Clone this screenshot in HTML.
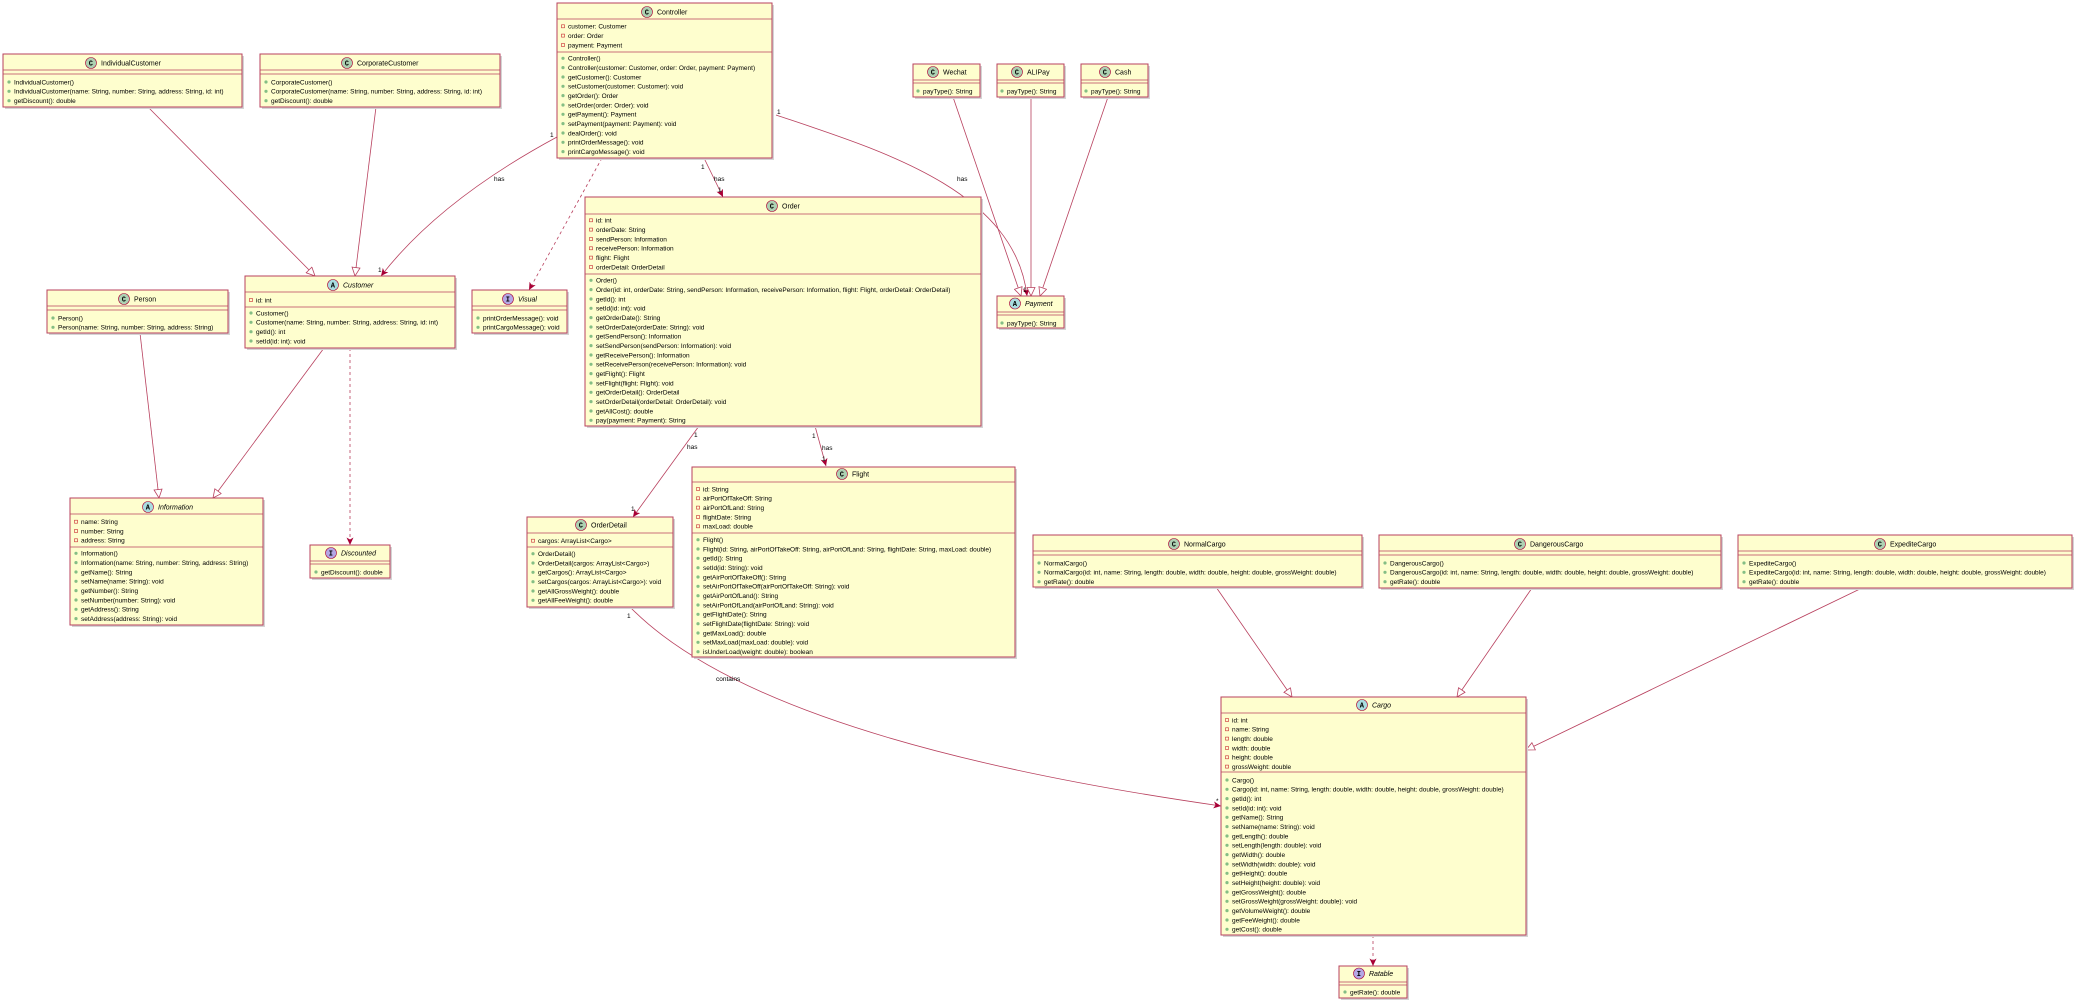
<!DOCTYPE html>
<html><head><meta charset="utf-8"><style>
html,body{margin:0;padding:0;background:#fff;}
svg{display:block;}
text{font-family:"Liberation Sans",Arial,sans-serif;font-size:6.5px;fill:#000;}
.n{font-size:7px;}
.i{font-style:italic;}
.lb{font-size:6.5px;}
.bx{fill:#FEFECE;stroke:#B8405E;stroke-width:1;}
.sh{fill:#d4d4d4;}
.ln{stroke:#B8405E;stroke-width:0.8;}
.e{fill:none;stroke:#B8405E;stroke-width:0.8;}
.d{fill:none;stroke:#B8405E;stroke-width:0.8;stroke-dasharray:3,3;}
.m{fill:#84BE84;}
.a{fill:none;stroke:#C82930;stroke-width:0.6;}
.ic{stroke:#A80036;stroke-width:0.6;}
.il{font-size:7px;font-weight:bold;font-family:"Liberation Mono",monospace;}
</style></head><body>
<svg width="2076" height="1005" viewBox="0 0 2076 1005" xmlns="http://www.w3.org/2000/svg">
<defs>
<marker id="tri" markerUnits="userSpaceOnUse" markerWidth="10" markerHeight="9" refX="9" refY="4.5" orient="auto"><path d="M0.5,0.5 L9,4.5 L0.5,8.5 Z" fill="#fff" stroke="#B8405E" stroke-width="0.8"/></marker>
<marker id="arr" markerUnits="userSpaceOnUse" markerWidth="8" markerHeight="7" refX="7.5" refY="3.5" orient="auto"><path d="M0,0 L7.5,3.5 L0,7 L2,3.5 Z" fill="#A80036"/></marker>
</defs>

<!-- connectors -->
<line x1="148" y1="107" x2="315" y2="276" class="ln" marker-end="url(#tri)"/>
<line x1="376" y1="107" x2="355" y2="276" class="ln" marker-end="url(#tri)"/>
<path d="M557,137 Q440,200 381,276" class="e" marker-end="url(#arr)"/>
<text x="550" y="137" class="lb">1</text><text x="494" y="181" class="lb">has</text><text x="378" y="272" class="lb">1</text>
<path d="M602,158 L529,290" class="d" marker-end="url(#arr)"/>
<line x1="704" y1="158" x2="723" y2="197" class="ln" marker-end="url(#arr)"/>
<text x="701" y="169" class="lb">1</text><text x="714" y="181" class="lb">has</text><text x="718" y="192" class="lb">1</text>
<path d="M776,115 C880,150 1015,190 1027,296" class="e" marker-end="url(#arr)"/>
<text x="777" y="114" class="lb">1</text><text x="957" y="181" class="lb">has</text><text x="1023" y="292" class="lb">1</text>
<line x1="953" y1="97" x2="1021" y2="296" class="ln" marker-end="url(#tri)"/>
<line x1="1031" y1="97" x2="1031" y2="296" class="ln" marker-end="url(#tri)"/>
<line x1="1108" y1="97" x2="1040" y2="296" class="ln" marker-end="url(#tri)"/>
<line x1="140" y1="333" x2="159" y2="498" class="ln" marker-end="url(#tri)"/>
<line x1="324" y1="348" x2="213" y2="498" class="ln" marker-end="url(#tri)"/>
<path d="M350,348 L350,545" class="d" marker-end="url(#arr)"/>
<line x1="699" y1="426" x2="633" y2="517" class="ln" marker-end="url(#arr)"/>
<text x="694" y="437" class="lb">1</text><text x="687" y="449" class="lb">has</text><text x="631" y="511" class="lb">1</text>
<line x1="815" y1="426" x2="826" y2="466" class="ln" marker-end="url(#arr)"/>
<text x="812" y="438" class="lb">1</text><text x="822" y="450" class="lb">has</text><text x="822" y="461" class="lb">1</text>
<path d="M630,607 Q760,740 1221,806" class="e" marker-end="url(#arr)"/>
<text x="627" y="618" class="lb">1</text><text x="716" y="681" class="lb">contains</text><text x="1216" y="803" class="lb">*</text>
<line x1="1216" y1="587" x2="1292" y2="697" class="ln" marker-end="url(#tri)"/>
<line x1="1532" y1="588" x2="1457" y2="697" class="ln" marker-end="url(#tri)"/>
<line x1="1862" y1="588" x2="1526" y2="750" class="ln" marker-end="url(#tri)"/>
<path d="M1373,935 L1373,966" class="d" marker-end="url(#arr)"/>

<!-- IndividualCustomer -->
<rect x="5" y="56" width="239" height="53" class="sh"/>
<rect x="3" y="54" width="239" height="53" class="bx"/>
<line x1="3" y1="70" x2="242" y2="70" class="ln"/><line x1="3" y1="74" x2="242" y2="74" class="ln"/>
<circle cx="91" cy="63" r="5.5" fill="#ADD1B2" class="ic"/><text x="88.8" y="65.5" class="il">C</text>
<text x="101" y="65.5" class="n">IndividualCustomer</text>
<circle cx="9" cy="82" r="1.6" class="m"/><text x="14" y="84.3">IndividualCustomer()</text>
<circle cx="9" cy="91.3" r="1.6" class="m"/><text x="14" y="93.6">IndividualCustomer(name: String, number: String, address: String, id: int)</text>
<circle cx="9" cy="100.7" r="1.6" class="m"/><text x="14" y="103">getDiscount(): double</text>

<!-- CorporateCustomer -->
<rect x="262" y="56" width="240" height="53" class="sh"/>
<rect x="260" y="54" width="240" height="53" class="bx"/>
<line x1="260" y1="70" x2="500" y2="70" class="ln"/><line x1="260" y1="74" x2="500" y2="74" class="ln"/>
<circle cx="347" cy="63" r="5.5" fill="#ADD1B2" class="ic"/><text x="344.8" y="65.5" class="il">C</text>
<text x="357" y="65.5" class="n">CorporateCustomer</text>
<circle cx="266" cy="82" r="1.6" class="m"/><text x="271" y="84.3">CorporateCustomer()</text>
<circle cx="266" cy="91.3" r="1.6" class="m"/><text x="271" y="93.6">CorporateCustomer(name: String, number: String, address: String, id: int)</text>
<circle cx="266" cy="100.7" r="1.6" class="m"/><text x="271" y="103">getDiscount(): double</text>

<!-- Controller -->
<rect x="559" y="5" width="215" height="155" class="sh"/>
<rect x="557" y="3" width="215" height="155" class="bx"/>
<line x1="557" y1="19" x2="772" y2="19" class="ln"/><line x1="557" y1="52" x2="772" y2="52" class="ln"/>
<circle cx="647" cy="12" r="5.5" fill="#ADD1B2" class="ic"/><text x="644.8" y="14.5" class="il">C</text>
<text x="657" y="14.5" class="n">Controller</text>
<rect x="561.5" y="24.8" width="3" height="3" class="a"/><text x="568" y="28.6">customer: Customer</text>
<rect x="561.5" y="34.1" width="3" height="3" class="a"/><text x="568" y="37.9">order: Order</text>
<rect x="561.5" y="43.5" width="3" height="3" class="a"/><text x="568" y="47.3">payment: Payment</text>
<circle cx="563" cy="58.3" r="1.6" class="m"/><text x="568" y="60.6">Controller()</text>
<circle cx="563" cy="67.6" r="1.6" class="m"/><text x="568" y="69.9">Controller(customer: Customer, order: Order, payment: Payment)</text>
<circle cx="563" cy="77" r="1.6" class="m"/><text x="568" y="79.3">getCustomer(): Customer</text>
<circle cx="563" cy="86.3" r="1.6" class="m"/><text x="568" y="88.6">setCustomer(customer: Customer): void</text>
<circle cx="563" cy="95.6" r="1.6" class="m"/><text x="568" y="97.9">getOrder(): Order</text>
<circle cx="563" cy="105" r="1.6" class="m"/><text x="568" y="107.3">setOrder(order: Order): void</text>
<circle cx="563" cy="114.3" r="1.6" class="m"/><text x="568" y="116.6">getPayment(): Payment</text>
<circle cx="563" cy="123.6" r="1.6" class="m"/><text x="568" y="125.9">setPayment(payment: Payment): void</text>
<circle cx="563" cy="133" r="1.6" class="m"/><text x="568" y="135.3">dealOrder(): void</text>
<circle cx="563" cy="142.3" r="1.6" class="m"/><text x="568" y="144.6">printOrderMessage(): void</text>
<circle cx="563" cy="151.6" r="1.6" class="m"/><text x="568" y="153.9">printCargoMessage(): void</text>

<!-- Wechat / ALIPay / Cash -->
<rect x="915" y="66" width="67" height="33" class="sh"/>
<rect x="913" y="64" width="67" height="33" class="bx"/>
<line x1="913" y1="80" x2="980" y2="80" class="ln"/><line x1="913" y1="83" x2="980" y2="83" class="ln"/>
<circle cx="933" cy="72" r="5.5" fill="#ADD1B2" class="ic"/><text x="930.8" y="74.5" class="il">C</text>
<text x="943" y="74.5" class="n">Wechat</text>
<circle cx="918" cy="91" r="1.6" class="m"/><text x="923" y="93.3">payType(): String</text>

<rect x="999" y="66" width="67" height="33" class="sh"/>
<rect x="997" y="64" width="67" height="33" class="bx"/>
<line x1="997" y1="80" x2="1064" y2="80" class="ln"/><line x1="997" y1="83" x2="1064" y2="83" class="ln"/>
<circle cx="1017" cy="72" r="5.5" fill="#ADD1B2" class="ic"/><text x="1014.8" y="74.5" class="il">C</text>
<text x="1027" y="74.5" class="n">ALIPay</text>
<circle cx="1002" cy="91" r="1.6" class="m"/><text x="1007" y="93.3">payType(): String</text>

<rect x="1083" y="66" width="67" height="33" class="sh"/>
<rect x="1081" y="64" width="67" height="33" class="bx"/>
<line x1="1081" y1="80" x2="1148" y2="80" class="ln"/><line x1="1081" y1="83" x2="1148" y2="83" class="ln"/>
<circle cx="1105" cy="72" r="5.5" fill="#ADD1B2" class="ic"/><text x="1102.8" y="74.5" class="il">C</text>
<text x="1115" y="74.5" class="n">Cash</text>
<circle cx="1086" cy="91" r="1.6" class="m"/><text x="1091" y="93.3">payType(): String</text>

<!-- Payment -->
<rect x="999" y="298" width="67" height="32" class="sh"/>
<rect x="997" y="296" width="67" height="32" class="bx"/>
<line x1="997" y1="312" x2="1064" y2="312" class="ln"/><line x1="997" y1="315" x2="1064" y2="315" class="ln"/>
<circle cx="1015" cy="303.5" r="5.5" fill="#A9DCDF" class="ic"/><text x="1012.8" y="306" class="il">A</text>
<text x="1025" y="306" class="n i">Payment</text>
<circle cx="1002" cy="323" r="1.6" class="m"/><text x="1007" y="325.3">payType(): String</text>

<!-- Customer -->
<rect x="247" y="278" width="210" height="72" class="sh"/>
<rect x="245" y="276" width="210" height="72" class="bx"/>
<line x1="245" y1="292" x2="455" y2="292" class="ln"/><line x1="245" y1="307" x2="455" y2="307" class="ln"/>
<circle cx="333" cy="285" r="5.5" fill="#A9DCDF" class="ic"/><text x="330.8" y="287.5" class="il">A</text>
<text x="343" y="287.5" class="n i">Customer</text>
<rect x="249.5" y="298.5" width="3" height="3" class="a"/><text x="256" y="302.3">id: int</text>
<circle cx="251" cy="313" r="1.6" class="m"/><text x="256" y="315.3">Customer()</text>
<circle cx="251" cy="322.3" r="1.6" class="m"/><text x="256" y="324.6">Customer(name: String, number: String, address: String, id: int)</text>
<circle cx="251" cy="331.7" r="1.6" class="m"/><text x="256" y="334">getId(): int</text>
<circle cx="251" cy="341" r="1.6" class="m"/><text x="256" y="343.3">setId(id: int): void</text>

<!-- Person -->
<rect x="49" y="292" width="181" height="43" class="sh"/>
<rect x="47" y="290" width="181" height="43" class="bx"/>
<line x1="47" y1="306" x2="228" y2="306" class="ln"/><line x1="47" y1="310" x2="228" y2="310" class="ln"/>
<circle cx="124" cy="299" r="5.5" fill="#ADD1B2" class="ic"/><text x="121.8" y="301.5" class="il">C</text>
<text x="134" y="301.5" class="n">Person</text>
<circle cx="53" cy="318" r="1.6" class="m"/><text x="58" y="320.3">Person()</text>
<circle cx="53" cy="327.3" r="1.6" class="m"/><text x="58" y="329.6">Person(name: String, number: String, address: String)</text>

<!-- Visual -->
<rect x="474" y="292" width="95" height="43" class="sh"/>
<rect x="472" y="290" width="95" height="43" class="bx"/>
<line x1="472" y1="306" x2="567" y2="306" class="ln"/><line x1="472" y1="310" x2="567" y2="310" class="ln"/>
<circle cx="508" cy="299" r="5.5" fill="#B4A7E5" class="ic"/><text x="505.8" y="301.5" class="il">I</text>
<text x="518" y="301.5" class="n i">Visual</text>
<circle cx="478" cy="318" r="1.6" class="m"/><text x="483" y="320.3">printOrderMessage(): void</text>
<circle cx="478" cy="327.3" r="1.6" class="m"/><text x="483" y="329.6">printCargoMessage(): void</text>

<!-- Order -->
<rect x="587" y="199" width="396" height="229" class="sh"/>
<rect x="585" y="197" width="396" height="229" class="bx"/>
<line x1="585" y1="214" x2="981" y2="214" class="ln"/><line x1="585" y1="274" x2="981" y2="274" class="ln"/>
<circle cx="772" cy="206" r="5.5" fill="#ADD1B2" class="ic"/><text x="769.8" y="208.5" class="il">C</text>
<text x="782" y="208.5" class="n">Order</text>
<rect x="589.5" y="218.8" width="3" height="3" class="a"/><text x="596" y="222.6">id: int</text>
<rect x="589.5" y="228.1" width="3" height="3" class="a"/><text x="596" y="231.9">orderDate: String</text>
<rect x="589.5" y="237.5" width="3" height="3" class="a"/><text x="596" y="241.3">sendPerson: Information</text>
<rect x="589.5" y="246.8" width="3" height="3" class="a"/><text x="596" y="250.6">receivePerson: Information</text>
<rect x="589.5" y="256.1" width="3" height="3" class="a"/><text x="596" y="259.9">flight: Flight</text>
<rect x="589.5" y="265.5" width="3" height="3" class="a"/><text x="596" y="269.3">orderDetail: OrderDetail</text>
<circle cx="591" cy="280.3" r="1.6" class="m"/><text x="596" y="282.6">Order()</text>
<circle cx="591" cy="289.6" r="1.6" class="m"/><text x="596" y="291.9">Order(id: int, orderDate: String, sendPerson: Information, receivePerson: Information, flight: Flight, orderDetail: OrderDetail)</text>
<circle cx="591" cy="299" r="1.6" class="m"/><text x="596" y="301.3">getId(): int</text>
<circle cx="591" cy="308.3" r="1.6" class="m"/><text x="596" y="310.6">setId(id: int): void</text>
<circle cx="591" cy="317.6" r="1.6" class="m"/><text x="596" y="319.9">getOrderDate(): String</text>
<circle cx="591" cy="327" r="1.6" class="m"/><text x="596" y="329.3">setOrderDate(orderDate: String): void</text>
<circle cx="591" cy="336.3" r="1.6" class="m"/><text x="596" y="338.6">getSendPerson(): Information</text>
<circle cx="591" cy="345.6" r="1.6" class="m"/><text x="596" y="347.9">setSendPerson(sendPerson: Information): void</text>
<circle cx="591" cy="355" r="1.6" class="m"/><text x="596" y="357.3">getReceivePerson(): Information</text>
<circle cx="591" cy="364.3" r="1.6" class="m"/><text x="596" y="366.6">setReceivePerson(receivePerson: Information): void</text>
<circle cx="591" cy="373.6" r="1.6" class="m"/><text x="596" y="375.9">getFlight(): Flight</text>
<circle cx="591" cy="383" r="1.6" class="m"/><text x="596" y="385.3">setFlight(flight: Flight): void</text>
<circle cx="591" cy="392.3" r="1.6" class="m"/><text x="596" y="394.6">getOrderDetail(): OrderDetail</text>
<circle cx="591" cy="401.6" r="1.6" class="m"/><text x="596" y="403.9">setOrderDetail(orderDetail: OrderDetail): void</text>
<circle cx="591" cy="411" r="1.6" class="m"/><text x="596" y="413.3">getAllCost(): double</text>
<circle cx="591" cy="420.3" r="1.6" class="m"/><text x="596" y="422.6">pay(payment: Payment): String</text>

<!-- Information -->
<rect x="72" y="500" width="193" height="127" class="sh"/>
<rect x="70" y="498" width="193" height="127" class="bx"/>
<line x1="70" y1="514" x2="263" y2="514" class="ln"/><line x1="70" y1="547" x2="263" y2="547" class="ln"/>
<circle cx="148" cy="507" r="5.5" fill="#A9DCDF" class="ic"/><text x="145.8" y="509.5" class="il">A</text>
<text x="158" y="509.5" class="n i">Information</text>
<rect x="74.5" y="520.2" width="3" height="3" class="a"/><text x="81" y="524">name: String</text>
<rect x="74.5" y="529.5" width="3" height="3" class="a"/><text x="81" y="533.3">number: String</text>
<rect x="74.5" y="538.8" width="3" height="3" class="a"/><text x="81" y="542.6">address: String</text>
<circle cx="76" cy="553.3" r="1.6" class="m"/><text x="81" y="555.6">Information()</text>
<circle cx="76" cy="562.6" r="1.6" class="m"/><text x="81" y="564.9">Information(name: String, number: String, address: String)</text>
<circle cx="76" cy="572" r="1.6" class="m"/><text x="81" y="574.3">getName(): String</text>
<circle cx="76" cy="581.3" r="1.6" class="m"/><text x="81" y="583.6">setName(name: String): void</text>
<circle cx="76" cy="590.6" r="1.6" class="m"/><text x="81" y="592.9">getNumber(): String</text>
<circle cx="76" cy="600" r="1.6" class="m"/><text x="81" y="602.3">setNumber(number: String): void</text>
<circle cx="76" cy="609.3" r="1.6" class="m"/><text x="81" y="611.6">getAddress(): String</text>
<circle cx="76" cy="618.6" r="1.6" class="m"/><text x="81" y="620.9">setAddress(address: String): void</text>

<!-- Discounted -->
<rect x="312" y="547" width="80" height="33" class="sh"/>
<rect x="310" y="545" width="80" height="33" class="bx"/>
<line x1="310" y1="561" x2="390" y2="561" class="ln"/><line x1="310" y1="564" x2="390" y2="564" class="ln"/>
<circle cx="331" cy="553" r="5.5" fill="#B4A7E5" class="ic"/><text x="328.8" y="555.5" class="il">I</text>
<text x="341" y="555.5" class="n i">Discounted</text>
<circle cx="316" cy="572" r="1.6" class="m"/><text x="321" y="574.3">getDiscount(): double</text>

<!-- OrderDetail -->
<rect x="529" y="519" width="146" height="90" class="sh"/>
<rect x="527" y="517" width="146" height="90" class="bx"/>
<line x1="527" y1="533" x2="673" y2="533" class="ln"/><line x1="527" y1="547" x2="673" y2="547" class="ln"/>
<circle cx="581" cy="525" r="5.5" fill="#ADD1B2" class="ic"/><text x="578.8" y="527.5" class="il">C</text>
<text x="591" y="527.5" class="n">OrderDetail</text>
<rect x="531.5" y="539.2" width="3" height="3" class="a"/><text x="538" y="543">cargos: ArrayList&lt;Cargo&gt;</text>
<circle cx="533" cy="553.7" r="1.6" class="m"/><text x="538" y="556">OrderDetail()</text>
<circle cx="533" cy="563" r="1.6" class="m"/><text x="538" y="565.3">OrderDetail(cargos: ArrayList&lt;Cargo&gt;)</text>
<circle cx="533" cy="572.3" r="1.6" class="m"/><text x="538" y="574.6">getCargos(): ArrayList&lt;Cargo&gt;</text>
<circle cx="533" cy="581.7" r="1.6" class="m"/><text x="538" y="584">setCargos(cargos: ArrayList&lt;Cargo&gt;): void</text>
<circle cx="533" cy="591" r="1.6" class="m"/><text x="538" y="593.3">getAllGrossWeight(): double</text>
<circle cx="533" cy="600.3" r="1.6" class="m"/><text x="538" y="602.6">getAllFeeWeight(): double</text>

<!-- Flight -->
<rect x="694" y="469" width="323" height="190" class="sh"/>
<rect x="692" y="467" width="323" height="190" class="bx"/>
<line x1="692" y1="482" x2="1015" y2="482" class="ln"/><line x1="692" y1="533" x2="1015" y2="533" class="ln"/>
<circle cx="842" cy="474" r="5.5" fill="#ADD1B2" class="ic"/><text x="839.8" y="476.5" class="il">C</text>
<text x="852" y="476.5" class="n">Flight</text>
<rect x="696.5" y="487.5" width="3" height="3" class="a"/><text x="703" y="491.3">id: String</text>
<rect x="696.5" y="496.8" width="3" height="3" class="a"/><text x="703" y="500.6">airPortOfTakeOff: String</text>
<rect x="696.5" y="506.1" width="3" height="3" class="a"/><text x="703" y="509.9">airPortOfLand: String</text>
<rect x="696.5" y="515.5" width="3" height="3" class="a"/><text x="703" y="519.3">flightDate: String</text>
<rect x="696.5" y="524.8" width="3" height="3" class="a"/><text x="703" y="528.6">maxLoad: double</text>
<circle cx="698" cy="539.7" r="1.6" class="m"/><text x="703" y="542">Flight()</text>
<circle cx="698" cy="549" r="1.6" class="m"/><text x="703" y="551.3">Flight(id: String, airPortOfTakeOff: String, airPortOfLand: String, flightDate: String, maxLoad: double)</text>
<circle cx="698" cy="558.3" r="1.6" class="m"/><text x="703" y="560.6">getId(): String</text>
<circle cx="698" cy="567.7" r="1.6" class="m"/><text x="703" y="570">setId(id: String): void</text>
<circle cx="698" cy="577" r="1.6" class="m"/><text x="703" y="579.3">getAirPortOfTakeOff(): String</text>
<circle cx="698" cy="586.3" r="1.6" class="m"/><text x="703" y="588.6">setAirPortOfTakeOff(airPortOfTakeOff: String): void</text>
<circle cx="698" cy="595.7" r="1.6" class="m"/><text x="703" y="598">getAirPortOfLand(): String</text>
<circle cx="698" cy="605" r="1.6" class="m"/><text x="703" y="607.3">setAirPortOfLand(airPortOfLand: String): void</text>
<circle cx="698" cy="614.3" r="1.6" class="m"/><text x="703" y="616.6">getFlightDate(): String</text>
<circle cx="698" cy="623.7" r="1.6" class="m"/><text x="703" y="626">setFlightDate(flightDate: String): void</text>
<circle cx="698" cy="633" r="1.6" class="m"/><text x="703" y="635.3">getMaxLoad(): double</text>
<circle cx="698" cy="642.3" r="1.6" class="m"/><text x="703" y="644.6">setMaxLoad(maxLoad: double): void</text>
<circle cx="698" cy="651.7" r="1.6" class="m"/><text x="703" y="654">isUnderLoad(weight: double): boolean</text>

<!-- NormalCargo -->
<rect x="1035" y="537" width="329" height="52" class="sh"/>
<rect x="1033" y="535" width="329" height="52" class="bx"/>
<line x1="1033" y1="551" x2="1362" y2="551" class="ln"/><line x1="1033" y1="555" x2="1362" y2="555" class="ln"/>
<circle cx="1174" cy="544" r="5.5" fill="#ADD1B2" class="ic"/><text x="1171.8" y="546.5" class="il">C</text>
<text x="1184" y="546.5" class="n">NormalCargo</text>
<circle cx="1039" cy="563" r="1.6" class="m"/><text x="1044" y="565.3">NormalCargo()</text>
<circle cx="1039" cy="572.3" r="1.6" class="m"/><text x="1044" y="574.6">NormalCargo(id: int, name: String, length: double, width: double, height: double, grossWeight: double)</text>
<circle cx="1039" cy="581.7" r="1.6" class="m"/><text x="1044" y="584">getRate(): double</text>

<!-- DangerousCargo -->
<rect x="1381" y="537" width="342" height="53" class="sh"/>
<rect x="1379" y="535" width="342" height="53" class="bx"/>
<line x1="1379" y1="551" x2="1721" y2="551" class="ln"/><line x1="1379" y1="555" x2="1721" y2="555" class="ln"/>
<circle cx="1520" cy="544" r="5.5" fill="#ADD1B2" class="ic"/><text x="1517.8" y="546.5" class="il">C</text>
<text x="1530" y="546.5" class="n">DangerousCargo</text>
<circle cx="1385" cy="563" r="1.6" class="m"/><text x="1390" y="565.3">DangerousCargo()</text>
<circle cx="1385" cy="572.3" r="1.6" class="m"/><text x="1390" y="574.6">DangerousCargo(id: int, name: String, length: double, width: double, height: double, grossWeight: double)</text>
<circle cx="1385" cy="581.7" r="1.6" class="m"/><text x="1390" y="584">getRate(): double</text>

<!-- ExpediteCargo -->
<rect x="1740" y="537" width="334" height="53" class="sh"/>
<rect x="1738" y="535" width="334" height="53" class="bx"/>
<line x1="1738" y1="551" x2="2072" y2="551" class="ln"/><line x1="1738" y1="555" x2="2072" y2="555" class="ln"/>
<circle cx="1880" cy="544" r="5.5" fill="#ADD1B2" class="ic"/><text x="1877.8" y="546.5" class="il">C</text>
<text x="1890" y="546.5" class="n">ExpediteCargo</text>
<circle cx="1744" cy="563" r="1.6" class="m"/><text x="1749" y="565.3">ExpediteCargo()</text>
<circle cx="1744" cy="572.3" r="1.6" class="m"/><text x="1749" y="574.6">ExpediteCargo(id: int, name: String, length: double, width: double, height: double, grossWeight: double)</text>
<circle cx="1744" cy="581.7" r="1.6" class="m"/><text x="1749" y="584">getRate(): double</text>

<!-- Cargo -->
<rect x="1223" y="699" width="305" height="238" class="sh"/>
<rect x="1221" y="697" width="305" height="238" class="bx"/>
<line x1="1221" y1="713" x2="1526" y2="713" class="ln"/><line x1="1221" y1="772" x2="1526" y2="772" class="ln"/>
<circle cx="1362" cy="705" r="5.5" fill="#A9DCDF" class="ic"/><text x="1359.8" y="707.5" class="il">A</text>
<text x="1372" y="707.5" class="n i">Cargo</text>
<rect x="1225.5" y="718.5" width="3" height="3" class="a"/><text x="1232" y="722.3">id: int</text>
<rect x="1225.5" y="727.8" width="3" height="3" class="a"/><text x="1232" y="731.6">name: String</text>
<rect x="1225.5" y="737.1" width="3" height="3" class="a"/><text x="1232" y="740.9">length: double</text>
<rect x="1225.5" y="746.5" width="3" height="3" class="a"/><text x="1232" y="750.3">width: double</text>
<rect x="1225.5" y="755.8" width="3" height="3" class="a"/><text x="1232" y="759.6">height: double</text>
<rect x="1225.5" y="765.1" width="3" height="3" class="a"/><text x="1232" y="768.9">grossWeight: double</text>
<circle cx="1227" cy="780" r="1.6" class="m"/><text x="1232" y="782.3">Cargo()</text>
<circle cx="1227" cy="789.3" r="1.6" class="m"/><text x="1232" y="791.6">Cargo(id: int, name: String, length: double, width: double, height: double, grossWeight: double)</text>
<circle cx="1227" cy="798.6" r="1.6" class="m"/><text x="1232" y="800.9">getId(): int</text>
<circle cx="1227" cy="808" r="1.6" class="m"/><text x="1232" y="810.3">setId(id: int): void</text>
<circle cx="1227" cy="817.3" r="1.6" class="m"/><text x="1232" y="819.6">getName(): String</text>
<circle cx="1227" cy="826.6" r="1.6" class="m"/><text x="1232" y="828.9">setName(name: String): void</text>
<circle cx="1227" cy="836" r="1.6" class="m"/><text x="1232" y="838.3">getLength(): double</text>
<circle cx="1227" cy="845.3" r="1.6" class="m"/><text x="1232" y="847.6">setLength(length: double): void</text>
<circle cx="1227" cy="854.6" r="1.6" class="m"/><text x="1232" y="856.9">getWidth(): double</text>
<circle cx="1227" cy="864" r="1.6" class="m"/><text x="1232" y="866.3">setWidth(width: double): void</text>
<circle cx="1227" cy="873.3" r="1.6" class="m"/><text x="1232" y="875.6">getHeight(): double</text>
<circle cx="1227" cy="882.6" r="1.6" class="m"/><text x="1232" y="884.9">setHeight(height: double): void</text>
<circle cx="1227" cy="892" r="1.6" class="m"/><text x="1232" y="894.3">getGrossWeight(): double</text>
<circle cx="1227" cy="901.3" r="1.6" class="m"/><text x="1232" y="903.6">setGrossWeight(grossWeight: double): void</text>
<circle cx="1227" cy="910.6" r="1.6" class="m"/><text x="1232" y="912.9">getVolumeWeight(): double</text>
<circle cx="1227" cy="920" r="1.6" class="m"/><text x="1232" y="922.3">getFeeWeight(): double</text>
<circle cx="1227" cy="929.3" r="1.6" class="m"/><text x="1232" y="931.6">getCost(): double</text>

<!-- Ratable -->
<rect x="1341" y="968" width="68" height="32" class="sh"/>
<rect x="1339" y="966" width="68" height="32" class="bx"/>
<line x1="1339" y1="982" x2="1407" y2="982" class="ln"/><line x1="1339" y1="985" x2="1407" y2="985" class="ln"/>
<circle cx="1359" cy="973.5" r="5.5" fill="#B4A7E5" class="ic"/><text x="1356.8" y="976" class="il">I</text>
<text x="1369" y="976" class="n i">Ratable</text>
<circle cx="1345" cy="992" r="1.6" class="m"/><text x="1350" y="994.3">getRate(): double</text>
</svg>
</body></html>
